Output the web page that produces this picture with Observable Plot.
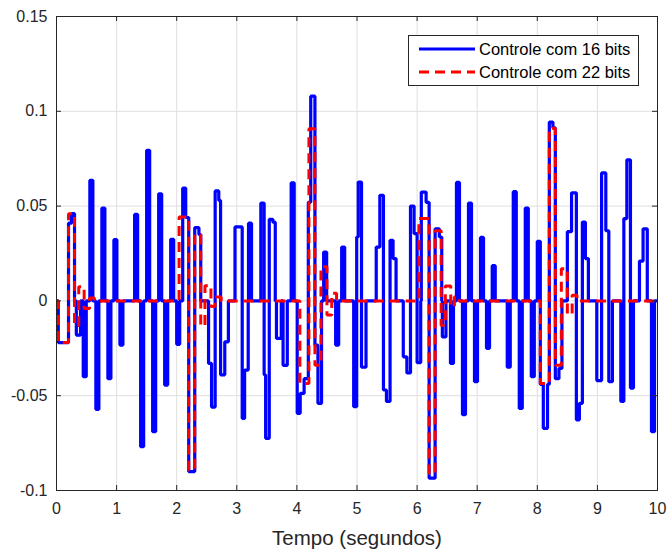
<!DOCTYPE html>
<html><head><meta charset="utf-8">
<script src="https://cdn.jsdelivr.net/npm/d3@7"></script>
<script src="https://cdn.jsdelivr.net/npm/@observablehq/plot@0.6"></script>
<style>
body{margin:0;background:#fff;}
#wrap{position:relative;width:668px;height:550px;font-family:"Liberation Sans",Arial,sans-serif;}
#legend{position:absolute;left:408px;top:35px;}
</style>
</head><body>
<div id="wrap"></div>
<script>
// Tick values and labels
const xTicks = [0,1,2,3,4,5,6,7,8,9,10];
const xTickLabels = ["0","1","2","3","4","5","6","7","8","9","10"];
const yTicks = [-0.1,-0.05,0,0.05,0.1,0.15];
const yTickLabels = ["-0.1","-0.05","0","0.05","0.1","0.15"];
const xLabel = "Tempo (segundos)";
const seriesNames = ["Controle com 16 bits","Controle com 22 bits"];

// Blue series (16 bits): pulses [start, end, value], zero elsewhere
const bluePulses = [
 [0.03,0.20,-0.022],[0.20,0.25,0.041],[0.25,0.30,0.046],[0.33,0.40,-0.018],
 [0.445,0.495,-0.040],[0.555,0.605,0.0636],[0.655,0.705,-0.0572],[0.755,0.805,0.049],
 [0.855,0.905,-0.041],[0.955,1.005,0.0323],[1.055,1.105,-0.0233],
 [1.30,1.35,0.0456],[1.40,1.45,-0.0769],[1.50,1.55,0.0794],[1.60,1.65,-0.069],
 [1.70,1.75,0.0565],[1.80,1.85,-0.0444],[1.90,1.95,0.0325],[2.00,2.05,-0.0229],
 [2.10,2.15,0.0595],[2.15,2.20,0.044],[2.20,2.30,-0.090],[2.30,2.37,0.0386],[2.37,2.40,0.035],
 [2.53,2.58,-0.033],[2.58,2.64,-0.056],[2.64,2.70,0.058],[2.70,2.73,0.053],[2.73,2.80,-0.039],[2.80,2.86,-0.0216],
 [2.97,3.09,0.039],[3.09,3.13,-0.062],[3.13,3.19,-0.0365],[3.195,3.245,0.041],
 [3.40,3.455,0.0516],[3.455,3.48,-0.039],[3.48,3.54,-0.0725],[3.54,3.60,0.043],[3.60,3.64,0.0415],
 [3.66,3.74,-0.0198],[3.77,3.84,-0.034],[3.905,3.955,0.0623],
 [4.005,4.055,-0.0593],[4.055,4.12,-0.0488],[4.12,4.19,-0.041],[4.19,4.23,0.052],[4.23,4.30,0.108],
 [4.30,4.35,-0.0233],[4.35,4.41,-0.054],[4.445,4.495,0.0258],[4.645,4.695,-0.0233],[4.745,4.795,0.0284],
 [4.945,4.995,-0.0558],[4.995,5.02,0.0337],[5.02,5.075,0.0627],[5.075,5.15,-0.035],
 [5.32,5.38,0.0284],[5.38,5.44,0.0557],[5.44,5.49,-0.047],[5.49,5.55,-0.053],[5.55,5.60,0.032],[5.60,5.65,0.0223],
 [5.77,5.83,-0.0295],[5.83,5.89,-0.038],[5.89,5.95,0.050],[5.95,6.00,0.0355],[6.00,6.06,-0.0326],
 [6.07,6.15,0.0574],[6.15,6.20,0.052],[6.20,6.30,-0.0935],[6.30,6.37,0.038],[6.37,6.41,0.0337],[6.42,6.48,-0.019],
 [6.555,6.605,-0.033],[6.655,6.705,0.0625],[6.755,6.805,-0.060],[6.855,6.905,0.0516],[6.955,7.005,-0.0426],
 [7.055,7.105,0.0335],[7.155,7.205,-0.025],[7.25,7.30,0.0186],
 [7.50,7.55,-0.035],[7.60,7.65,0.0576],[7.70,7.75,-0.0567],[7.80,7.85,0.049],[7.90,7.95,-0.040],[8.00,8.05,0.0314],
 [8.05,8.10,-0.044],[8.10,8.17,-0.0672],[8.17,8.20,-0.044],[8.20,8.26,0.0943],[8.26,8.30,0.0913],[8.30,8.36,-0.041],[8.36,8.41,-0.0356],
 [8.50,8.57,0.0365],[8.57,8.65,0.057],[8.65,8.70,-0.0627],[8.70,8.75,-0.054],[8.75,8.80,0.0416],[8.80,8.85,0.0223],
 [8.99,9.07,-0.042],[9.07,9.14,0.0675],[9.14,9.19,0.037],[9.19,9.25,-0.0426],
 [9.39,9.44,-0.053],[9.44,9.49,0.0434],[9.49,9.55,0.0744],[9.55,9.60,-0.046],
 [9.70,9.76,0.021],[9.76,9.83,0.038],[9.90,9.95,-0.069]
];

// Red series (22 bits)
const redPulses = [
 [0.03,0.20,-0.022],[0.20,0.30,0.046],[0.30,0.37,-0.013],[0.37,0.46,0.0075],[0.46,0.55,-0.004],[0.55,0.63,0.0015],
 [2.04,2.20,0.0442],[2.20,2.30,-0.089],[2.30,2.40,0.035],[2.40,2.47,-0.013],[2.47,2.57,0.008],[2.57,2.64,-0.003],[2.64,2.74,0.002],
 [4.05,4.20,-0.0435],[4.20,4.30,0.0908],[4.30,4.40,-0.034],[4.40,4.50,0.018],[4.50,4.58,-0.0075],[4.58,4.66,0.004],
 [6.03,6.20,0.0435],[6.20,6.30,-0.091],[6.30,6.40,0.037],[6.40,6.47,-0.013],[6.47,6.56,0.0078],[6.56,6.62,-0.003],[6.62,6.70,0.002],
 [8.05,8.20,-0.0435],[8.20,8.30,0.091],[8.30,8.40,-0.034],[8.40,8.50,0.017],[8.50,8.58,-0.007],[8.58,8.66,0.003]
];

const tEnd = 10;
function toSteps(pulses){
  const pts = [{t:0, v:0}];
  pulses.forEach(([t0,t1,v], i) => {
    pts.push({t:t0, v});
    const next = pulses[i+1];
    if (!next || next[0] > t1 + 1e-9) pts.push({t:t1, v:0});
  });
  pts.push({t:tEnd, v:0});
  return pts;
}
const blue = toSteps(bluePulses);
const red = toSteps(redPulses);

const W = 668, H = 550, mL = 56, mR = 11, mT = 16, mB = 60;
const innerW = W - mL - mR, innerH = H - mT - mB;
const tick = 5;
const axisColor = "#262626";

const chart = Plot.plot({
  width: W, height: H,
  marginLeft: mL, marginRight: mR, marginTop: mT, marginBottom: mB,
  style: {fontFamily: "'Liberation Sans', Arial, sans-serif", fontSize: "16px", background: "#fff", color: axisColor},
  x: {domain: [0, 10], ticks: xTicks, label: null},
  y: {domain: [-0.1, 0.15], ticks: yTicks, label: null},
  marks: [
    Plot.gridX(xTicks, {stroke: "#dfdfdf", strokeOpacity: 1}),
    Plot.gridY(yTicks, {stroke: "#dfdfdf", strokeOpacity: 1}),
    Plot.line(blue, {x: "t", y: "v", curve: "step-after", stroke: "#0000ff", strokeWidth: 3.2, strokeLinejoin: "miter", strokeLinecap: "butt"}),
    Plot.line(red, {x: "t", y: "v", curve: "step-after", stroke: "#ff0000", strokeWidth: 3, strokeDasharray: "10,6", strokeLinejoin: "miter", strokeLinecap: "butt"}),
    Plot.frame({stroke: axisColor, strokeWidth: 1}),
    Plot.tickX(xTicks, {x: d => d, insetTop: innerH - tick, stroke: axisColor}),
    Plot.tickX(xTicks, {x: d => d, insetBottom: innerH - tick, stroke: axisColor}),
    Plot.tickY(yTicks, {y: d => d, insetRight: innerW - tick, stroke: axisColor}),
    Plot.tickY(yTicks, {y: d => d, insetLeft: innerW - tick, stroke: axisColor}),
    Plot.axisX({ticks: xTicks, tickSize: 0, tickPadding: 12, fontSize: 16, fill: axisColor, tickFormat: d => xTickLabels[xTicks.indexOf(d)], label: null}),
    Plot.axisY({ticks: yTicks, tickSize: 0, tickPadding: 9, fontSize: 16, fill: axisColor, tickFormat: d => yTickLabels[yTicks.findIndex(v => Math.abs(v - d) < 1e-9)], label: null}),
    Plot.text([xLabel], {frameAnchor: "bottom", dy: 54, text: d => d, fontSize: 20.5, fill: axisColor})
  ]
});

const wrap = document.getElementById("wrap");
wrap.appendChild(chart);

// Legend overlay (inside the plot area, top-right)
const lg = document.createElement("div");
lg.id = "legend";
const lw = 231, lh = 51;
const svgNS = "http://www.w3.org/2000/svg";
const svg = document.createElementNS(svgNS, "svg");
svg.setAttribute("width", lw); svg.setAttribute("height", lh);
const colors = ["#0000ff", "#ff0000"];
const dashes = [null, "10,6"];
let html = `<rect x="0.5" y="0.5" width="${lw-1}" height="${lh-1}" fill="#fff" stroke="${axisColor}" stroke-width="1"/>`;
seriesNames.forEach((name, i) => {
  const y = 14 + i * 23;
  html += `<line x1="11" x2="67" y1="${y}" y2="${y}" stroke="${colors[i]}" stroke-width="3.2"${dashes[i] ? ` stroke-dasharray="${dashes[i]}"` : ""}/>`;
  html += `<text x="71" y="${y}" dy="0.35em" font-family="'Liberation Sans', Arial, sans-serif" font-size="16.5" fill="#000">${name}</text>`;
});
svg.innerHTML = html;
lg.appendChild(svg);
wrap.appendChild(lg);
</script>
</body></html>
